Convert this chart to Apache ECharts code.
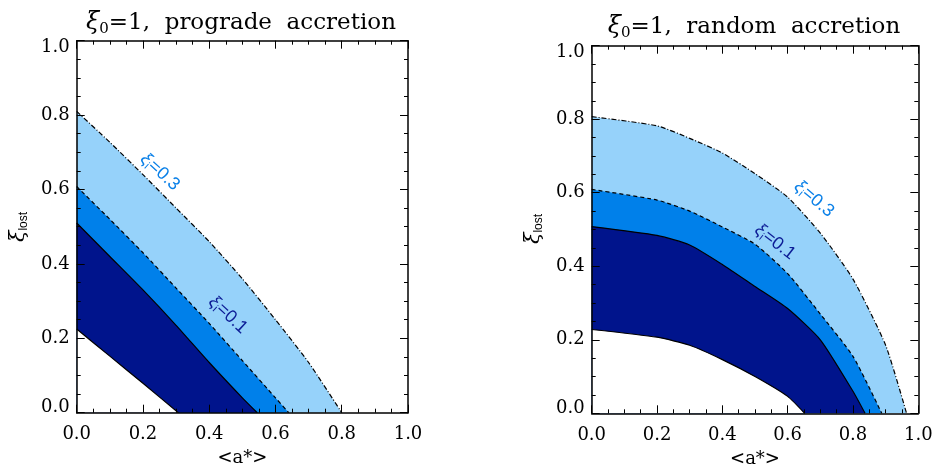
<!DOCTYPE html>
<html>
<head>
<meta charset="utf-8">
<script src="https://cdn.jsdelivr.net/npm/echarts@6/dist/echarts.min.js"></script>
<style>
  html, body { margin: 0; padding: 0; background: #fff; }
  #main { width: 933px; height: 466px; }
</style>
</head>
<body>
<div id="main"></div>
<script>
// prograde accretion: boundaries, <a*> -> xi_lost
const proLowerA = [0, 0.1, 0.2, 0.307];
const proLowerXi = [0.225, 0.152, 0.079, 0];
const proSolidA = [0, 0.1, 0.2, 0.3, 0.4, 0.5, 0.545];
const proSolidXi = [0.51, 0.42, 0.33, 0.235, 0.135, 0.04, 0];
const proDashA = [0, 0.1, 0.2, 0.3, 0.4, 0.5, 0.6, 0.64];
const proDashXi = [0.608, 0.52, 0.43, 0.335, 0.24, 0.14, 0.04, 0];
const proDotA = [0, 0.1, 0.2, 0.3, 0.4, 0.5, 0.6, 0.7, 0.8];
const proDotXi = [0.81, 0.727, 0.64, 0.55, 0.46, 0.36, 0.25, 0.135, 0];

// random accretion
const rndLowerA = [0, 0.2, 0.3, 0.4, 0.5, 0.6, 0.652];
const rndLowerXi = [0.228, 0.207, 0.185, 0.146, 0.1, 0.046, 0];
const rndSolidA = [0, 0.2, 0.3, 0.4, 0.5, 0.6, 0.7, 0.8, 0.837];
const rndSolidXi = [0.508, 0.484, 0.458, 0.405, 0.345, 0.285, 0.2, 0.06, 0];
const rndDashA = [0, 0.2, 0.3, 0.4, 0.5, 0.6, 0.7, 0.8, 0.888];
const rndDashXi = [0.609, 0.58, 0.55, 0.507, 0.46, 0.38, 0.27, 0.155, 0];
const rndDotA = [0, 0.2, 0.3, 0.4, 0.5, 0.6, 0.7, 0.8, 0.9, 0.964];
const rndDotXi = [0.807, 0.782, 0.748, 0.708, 0.652, 0.588, 0.49, 0.365, 0.185, 0];

const tickLabels = ["0.0", "0.2", "0.4", "0.6", "0.8", "1.0"];

const NAVY = "#00148c";
const MID = "#0080ea";
const LIGHT = "#96d2fa";
const SERIF = "DejaVu Serif";
const SANS = "Liberation Sans";

let chart = echarts.init(document.getElementById("main"));

function band(a, xi, fill, dash, g) {
  return {
    type: "line",
    xAxisIndex: g * 2,
    yAxisIndex: g * 2,
    data: a.map((v, i) => [v, xi[i]]),
    symbol: "none",
    silent: true,
    smooth: 0.2,
    lineStyle: { color: "#000", width: 1.2, type: dash },
    areaStyle: { color: fill, opacity: 1 },
  };
}

function labelFmt(v) {
  const s = tickLabels[Math.round(v / 0.2)];
  if (v === 0) return "{lo|" + s + "}";
  if (v >= 1) return "{hi|" + s + "}";
  return "{n|" + s + "}";
}

function axis(g, pos, isY) {
  const main = pos === "bottom" || pos === "left";
  const ax = {
    type: "value",
    gridIndex: g,
    position: pos,
    min: 0,
    max: 1,
    interval: 0.2,
    z: 10,
    axisLine: { show: true, onZero: false, lineStyle: { color: "#000", width: 1.5 } },
    axisTick: { show: true, inside: true, length: 8, lineStyle: { color: "#000", width: 1 } },
    minorTick: { show: true, splitNumber: 4, length: 4, lineStyle: { color: "#000", width: 1 } },
    splitLine: { show: false },
    minorSplitLine: { show: false },
    axisLabel: { show: false },
  };
  if (main) {
    const lab = { fontFamily: SERIF, fontSize: 18, color: "#000" };
    ax.axisLabel = Object.assign({
      show: true,
      margin: isY ? 7 : 13,
      formatter: isY ? labelFmt : (v) => tickLabels[Math.round(v / 0.2)],
      rich: isY
        ? {
            n: lab,
            lo: Object.assign({ padding: [0, 0, 10, 0] }, lab),
            hi: Object.assign({ padding: [14, 0, 0, 0] }, lab),
          }
        : undefined,
    }, lab);
    if (!isY) {
      ax.name = "<a*>";
      ax.nameLocation = "middle";
      ax.nameGap = 37;
      ax.nameTextStyle = { fontFamily: SERIF, fontSize: 18, color: "#000" };
    }
  }
  return ax;
}

const titleRich = {
  g: { fontFamily: SERIF, fontStyle: "italic", fontSize: 24, lineHeight: 28, fill: "#000" },
  s: { fontFamily: SERIF, fontSize: 15, lineHeight: 15, verticalAlign: "bottom", fill: "#000" },
  t: { fontFamily: SERIF, fontSize: 23, lineHeight: 28, fill: "#000" },
};

function labelRich(col) {
  return {
    g: { fontFamily: SANS, fontStyle: "italic", fontSize: 18, lineHeight: 20, fill: col },
    s: { fontFamily: SANS, fontSize: 11, lineHeight: 11, verticalAlign: "bottom", fill: col },
    t: { fontFamily: SANS, fontSize: 18, lineHeight: 20, fill: col },
  };
}

const yNameRich = {
  g: { fontFamily: SERIF, fontStyle: "italic", fontSize: 21, lineHeight: 22, fill: "#000" },
  s: { fontFamily: SANS, fontSize: 12, lineHeight: 12, verticalAlign: "bottom", fill: "#000" },
};

function txt(x, y, text, rich, rot) {
  return {
    type: "text",
    x: x,
    y: y,
    z: 100,
    rotation: rot || 0,
    silent: true,
    style: { text: text, rich: rich, align: "center", verticalAlign: "middle" },
  };
}

const deg = Math.PI / 180;

let option = {
  animation: false,
  backgroundColor: "#fff",
  grid: [
    { left: 76.7, top: 40.7, width: 331.3, height: 372, outerBoundsMode: "none" },
    { left: 591.7, top: 45.7, width: 326.6, height: 367.6, outerBoundsMode: "none" },
  ],
  xAxis: [axis(0, "bottom", false), axis(0, "top", false), axis(1, "bottom", false), axis(1, "top", false)],
  yAxis: [axis(0, "left", true), axis(0, "right", true), axis(1, "left", true), axis(1, "right", true)],
  series: [
    band(proDotA, proDotXi, LIGHT, [5, 2, 1, 2], 0),
    band(proDashA, proDashXi, MID, [4, 3], 0),
    band(proSolidA, proSolidXi, NAVY, "solid", 0),
    band(proLowerA, proLowerXi, "#fff", "solid", 0),
    band(rndDotA, rndDotXi, LIGHT, [5, 2, 1, 2], 1),
    band(rndDashA, rndDashXi, MID, [4, 3], 1),
    band(rndSolidA, rndSolidXi, NAVY, "solid", 1),
    band(rndLowerA, rndLowerXi, "#fff", "solid", 1),
  ],
  graphic: [
    txt(241, 23, "{g|ξ}{s|0}{t|=1,  prograde  accretion}", titleRich),
    txt(754, 27, "{g|ξ}{s|0}{t|=1,  random  accretion}", titleRich),
    txt(19, 227, "{g|ξ}{s|lost}", yNameRich, 90 * deg),
    txt(534, 229, "{g|ξ}{s|lost}", yNameRich, 90 * deg),
    txt(160, 172, "{g|ξ}{s|i}{t|=0.3}", labelRich("#0a80e8"), -42 * deg),
    txt(228, 315, "{g|ξ}{s|i}{t|=0.1}", labelRich("#0c1c96"), -43 * deg),
    txt(814, 199, "{g|ξ}{s|i}{t|=0.3}", labelRich("#0a80e8"), -40 * deg),
    txt(775, 242, "{g|ξ}{s|i}{t|=0.1}", labelRich("#0c1c96"), -38 * deg),
  ],
};

chart.setOption(option);
</script>
</body>
</html>
